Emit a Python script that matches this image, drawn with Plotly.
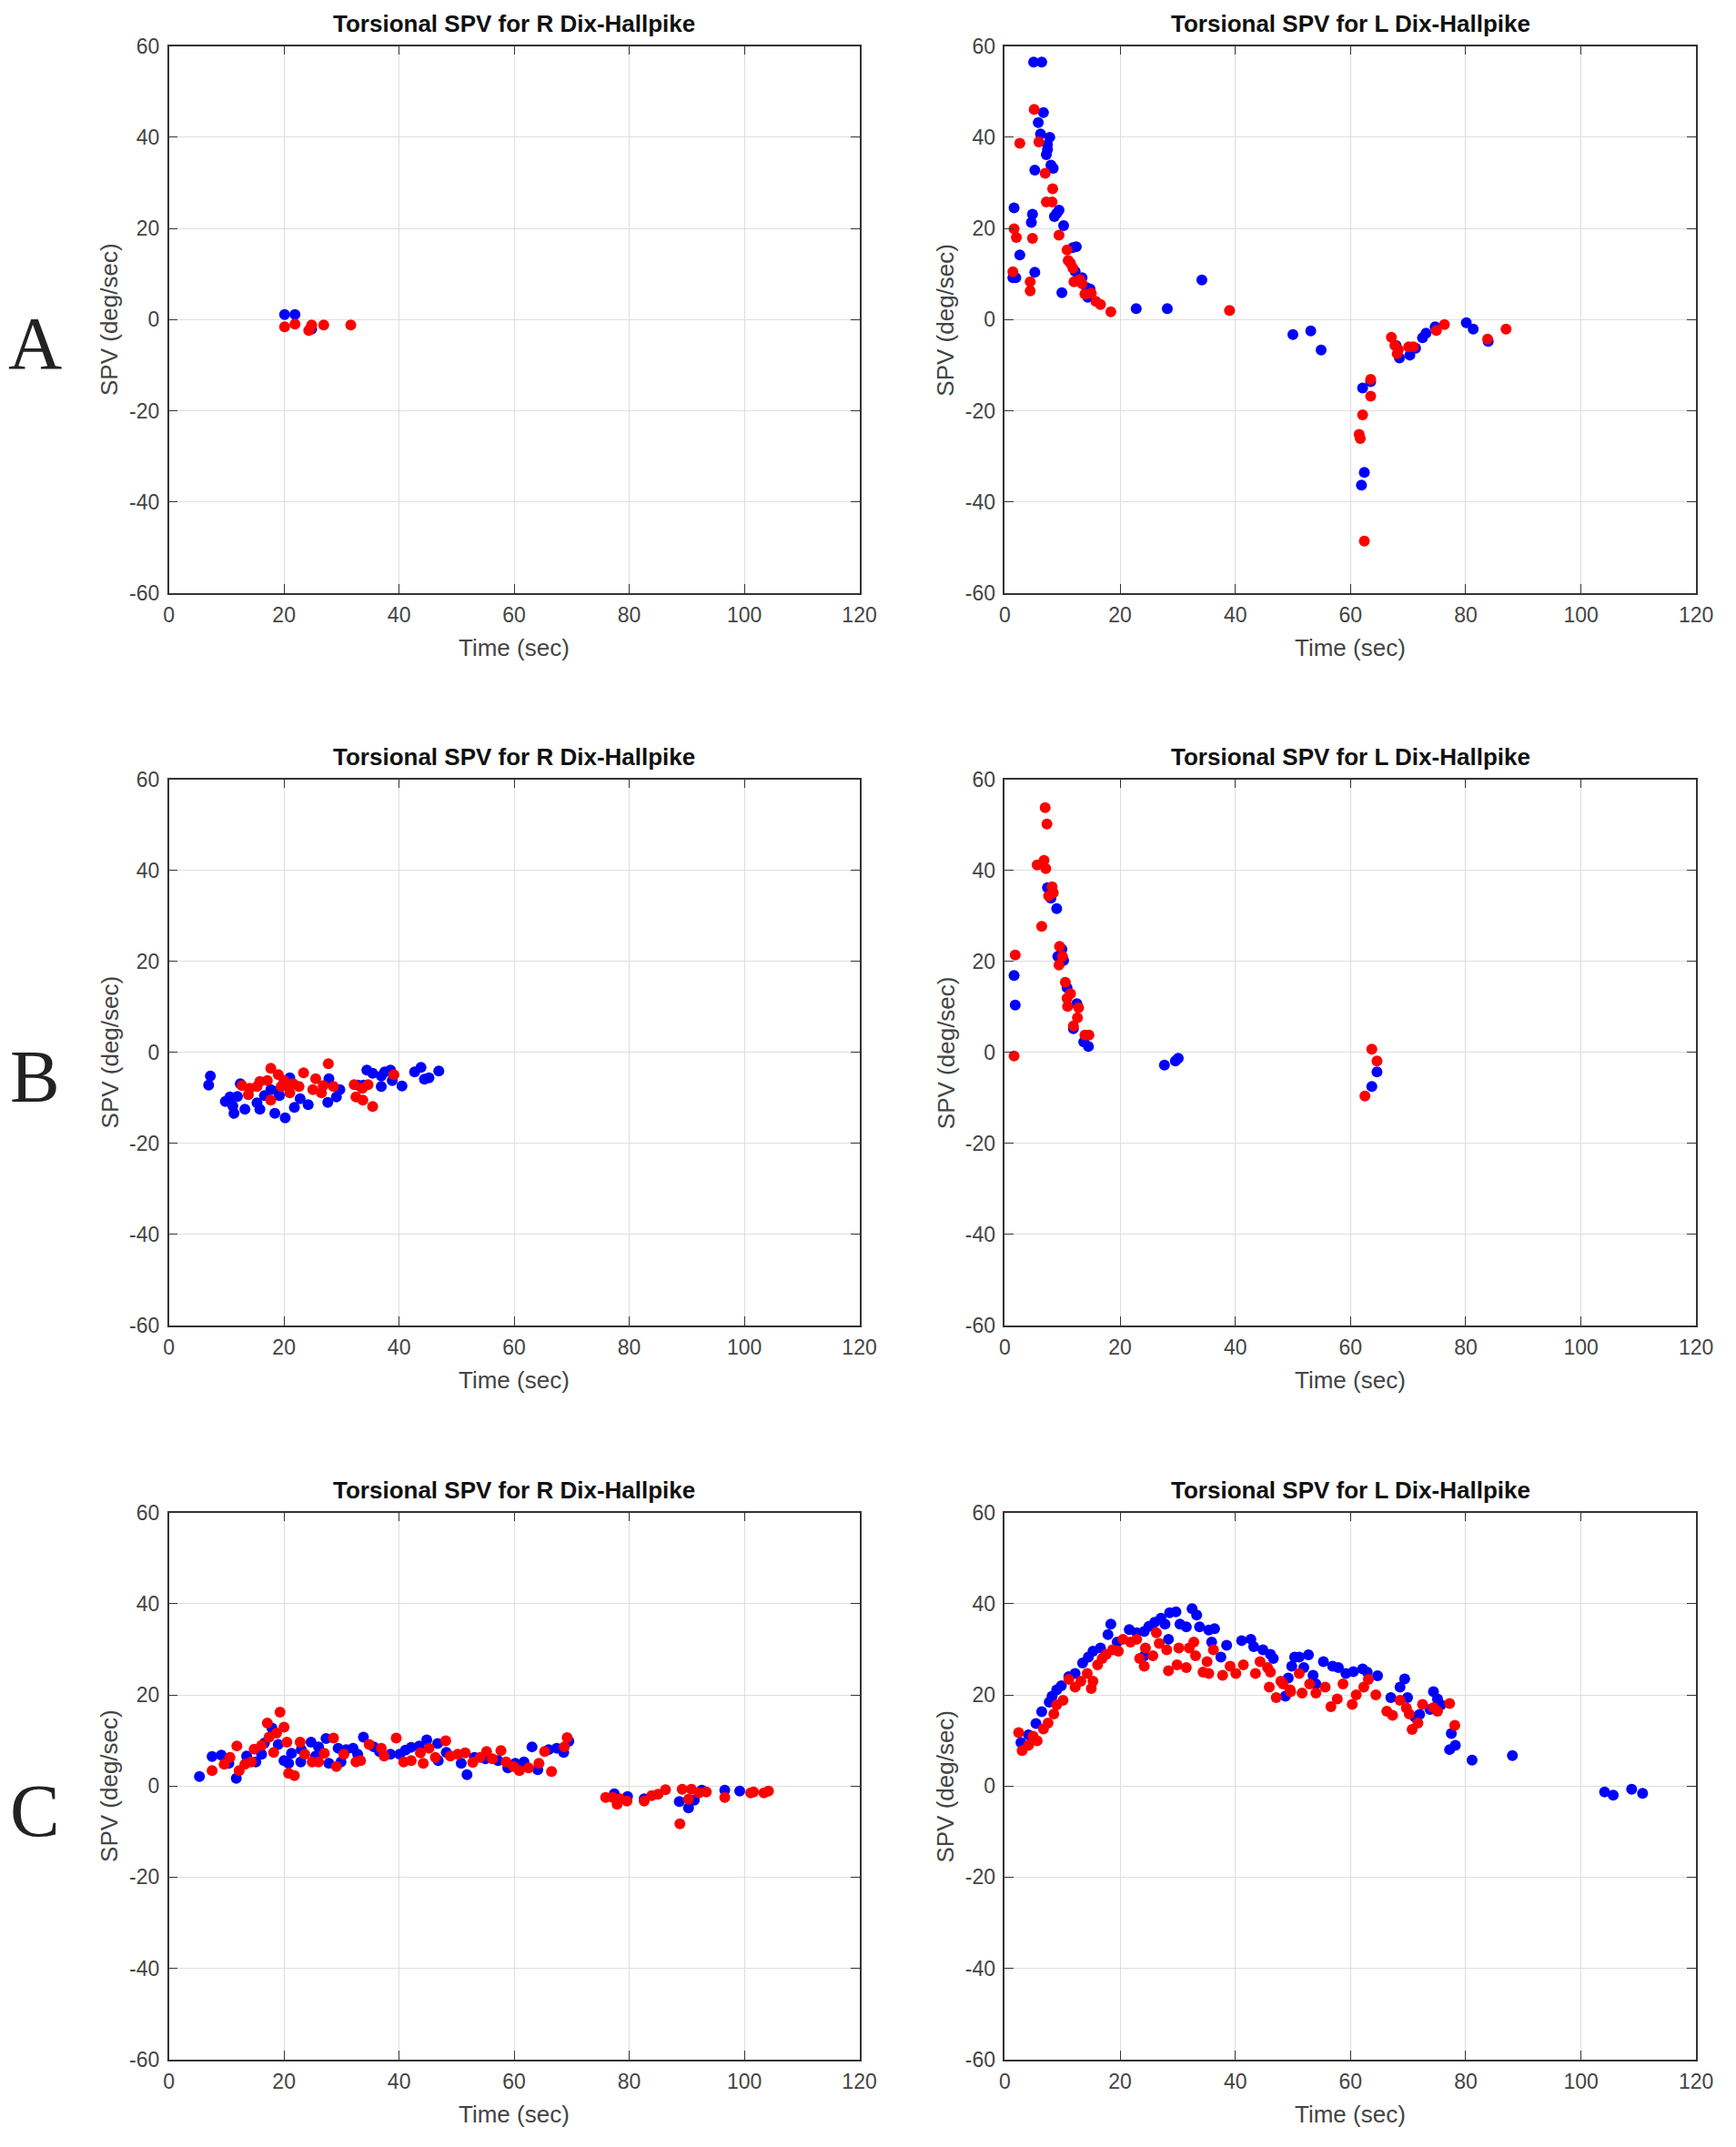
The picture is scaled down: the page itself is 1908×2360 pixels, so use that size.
import plotly.graph_objects as go

# --- data: time (sec) and torsional SPV (deg/sec) ---

# A, R Dix-Hallpike
a_r_blue_t = [20.1, 21.9, 24.8]
a_r_blue_spv = [1.1, 1.1, -2.1]
a_r_red_t = [20.1, 21.9, 24.3, 24.6, 24.8, 26.9, 31.6]
a_r_red_spv = [-1.6, -1.0, -2.4, -1.9, -1.2, -1.2, -1.2]

# A, L Dix-Hallpike
a_l_blue_t = [5.0, 6.4, 6.7, 5.8, 6.2, 7.8, 7.4, 7.4, 7.2, 5.2, 8.0, 8.4, 1.6, 4.8, 4.6, 9.4, 9.0,
              8.6, 10.2, 2.6, 11.8, 12.4, 5.2, 1.4, 1.9, 12.2, 13.4, 14.2, 14.8, 14.4, 9.9, 22.8,
              28.2, 34.2, 50.0, 53.1, 54.9, 62.1, 63.5, 62.4, 61.9, 67.9, 68.5, 70.3, 71.3, 72.5,
              73.1, 74.7, 80.1, 81.3, 83.9]
a_l_blue_spv = [56.5, 56.5, 45.4, 43.2, 40.7, 40.0, 38.4, 37.3, 36.2, 32.8, 33.9, 33.2, 24.5, 23.1,
                21.3, 24.0, 23.3, 22.6, 20.6, 14.2, 15.8, 16.0, 10.4, 9.2, 9.2, 10.6, 9.2, 7.0, 6.7,
                4.9, 5.9, 2.4, 2.4, 8.7, -3.3, -2.5, -6.7, -15.0, -13.6, -33.5, -36.3, -5.7, -8.4,
                -7.8, -6.3, -4.0, -3.0, -1.6, -0.7, -2.1, -4.8]
a_l_red_t = [5.1, 2.6, 5.9, 7.0, 8.3, 7.2, 8.2, 1.6, 2.0, 4.8, 9.4, 10.8, 11.0, 11.4, 11.8, 1.4,
             4.4, 4.4, 12.0, 13.0, 13.4, 13.9, 15.0, 15.8, 16.6, 18.4, 39.0, 63.5, 63.5, 62.1,
             61.5, 61.7, 62.4, 67.1, 67.7, 68.3, 68.1, 70.1, 70.9, 74.9, 76.3, 83.8, 87.0]
a_l_red_spv = [46.1, 38.7, 39.0, 32.1, 28.7, 25.8, 25.8, 19.9, 18.0, 17.8, 18.5, 15.3, 13.0, 12.4,
               11.3, 10.5, 8.3, 6.3, 8.3, 8.8, 7.9, 5.6, 5.8, 4.0, 3.3, 1.7, 2.0, -13.1, -16.8,
               -20.9, -25.2, -26.1, -48.6, -3.9, -5.7, -6.6, -7.5, -6.0, -6.0, -2.4, -1.1, -4.3, -2.1]

# B, R Dix-Hallpike
b_r_blue_t = [7.2, 6.9, 9.8, 10.6, 11.9, 11.1, 11.3, 13.2, 12.4, 15.3, 15.8, 16.6, 17.7, 19.2,
              18.4, 20.2, 21.8, 21.0, 22.8, 24.2, 27.8, 29.7, 27.6, 29.1, 32.8, 34.4, 35.4, 36.9,
              37.5, 38.5, 38.8, 36.9, 40.5, 42.7, 43.8, 44.4, 45.2, 46.9, 33.8, 18.9]
b_r_blue_spv = [-5.2, -7.2, -10.8, -9.8, -9.7, -11.8, -13.4, -12.5, -6.9, -11.1, -12.5, -9.5, -8.2,
                -9.5, -13.4, -14.4, -12.1, -5.6, -10.2, -11.5, -5.8, -8.2, -11.0, -9.8, -7.2, -3.9,
                -4.6, -5.2, -4.3, -3.9, -6.2, -7.5, -7.4, -4.3, -3.3, -5.9, -5.6, -4.1, -7.2, -8.5]
b_r_red_t = [17.7, 19.0, 23.4, 27.7, 25.5, 12.7, 14.0, 13.8, 15.3, 15.8, 17.1, 17.7, 19.5, 20.3,
             21.0, 21.6, 22.6, 25.0, 26.5, 26.8, 28.6, 32.2, 33.6, 34.6, 32.5, 33.7, 35.4, 39.1, 20.0]
b_r_red_spv = [-3.5, -4.9, -4.5, -2.5, -5.8, -7.3, -7.9, -9.3, -7.5, -6.4, -6.2, -10.5, -7.5, -7.2,
               -8.9, -6.9, -7.5, -8.2, -8.9, -7.3, -7.5, -7.1, -7.9, -7.1, -9.8, -10.5, -11.9,
               -4.9, -6.2]

# B, L Dix-Hallpike
b_l_blue_t = [7.4, 8.0, 9.0, 9.9, 9.2, 10.2, 10.8, 12.5, 11.9, 13.7, 14.5, 1.6, 1.8, 27.7, 29.6,
              30.1, 64.6, 63.7]
b_l_blue_spv = [36.2, 33.9, 31.6, 22.7, 21.1, 20.2, 14.2, 10.7, 5.2, 2.3, 1.3, 16.9, 10.4, -2.8,
                -1.9, -1.3, -4.3, -7.5]
b_l_red_t = [7.0, 7.3, 5.6, 6.8, 7.1, 8.2, 7.6, 8.4, 6.4, 9.5, 10.0, 9.4, 10.5, 11.4, 10.8, 10.9,
             12.8, 12.6, 11.9, 13.9, 14.6, 1.8, 1.6, 63.7, 64.6, 62.5]
b_l_red_spv = [53.8, 50.2, 41.2, 42.2, 40.4, 36.4, 34.4, 35.1, 27.7, 23.3, 21.1, 19.2, 15.4, 12.9,
               11.9, 10.1, 9.8, 7.6, 5.8, 3.8, 3.8, 21.4, -0.8, 0.7, -1.9, -9.6]

# C, R Dix-Hallpike
c_r_blue_t = [5.3, 7.5, 9.1, 11.7, 13.5, 16.1, 16.6, 17.9, 19.0, 20.0, 20.8, 21.3, 24.7, 26.0,
              27.3, 27.8, 29.4, 32.0, 33.8, 35.6, 38.5, 40.1, 42.1, 44.8, 46.7, 46.8, 50.8, 51.8,
              53.1, 58.9, 61.7, 63.1, 64.1, 67.4, 68.6, 69.5, 10.4, 15.1, 22.9, 29.9, 41.1, 32.8,
              23.0, 25.5, 30.8, 36.6, 43.5, 48.2, 55.0, 57.2, 60.2, 66.0,
              77.4, 79.7, 82.6, 88.7, 90.3, 91.3, 92.6, 96.6, 99.2]
c_r_blue_spv = [2.1, 6.5, 6.8, 1.7, 6.6, 7.0, 9.4, 12.7, 9.1, 5.6, 5.0, 7.2, 9.6, 8.6, 10.4, 5.0,
                8.3, 8.3, 10.7, 8.6, 7.0, 7.0, 8.5, 10.1, 9.3, 5.6, 5.0, 2.5, 6.3, 4.0, 5.3, 8.6,
                3.6, 8.3, 7.4, 9.8, 5.0, 5.3, 5.3, 5.3, 7.9, 7.0,
                8.0, 6.6, 8.0, 7.6, 8.8, 7.4, 6.0, 5.6, 5.0, 8.0,
                -1.7, -2.3, -2.8, -3.4, -4.8, -3.1, -0.9, -0.9, -1.1]
c_r_red_t = [7.5, 9.6, 10.6, 11.8, 12.2, 13.2, 14.3, 14.8, 16.1, 17.1, 17.4, 18.2, 18.7, 19.3,
             20.0, 20.5, 20.8, 21.8, 22.8, 23.6, 24.9, 26.0, 27.0, 28.6, 29.1, 30.4, 32.5, 33.3,
             34.8, 36.9, 37.4, 39.5, 40.8, 42.1, 43.7, 44.2, 45.2, 46.3, 48.1, 48.9, 50.2, 51.5,
             52.8, 54.1, 55.2, 56.2, 57.7, 58.6, 59.9, 60.9, 62.5, 64.3, 65.3, 66.5, 68.7, 69.2,
             75.9, 77.1, 77.9, 78.4, 79.6, 82.6, 83.9, 85.0, 86.3, 89.2, 90.8, 90.3, 92.1, 93.4,
             88.8, 96.6, 101.1, 101.6, 103.4, 104.2]
c_r_red_spv = [3.4, 4.8, 6.3, 8.8, 3.4, 4.8, 5.3, 8.1, 8.9, 13.8, 10.7, 7.4, 11.6, 16.2, 12.9, 9.6,
               2.8, 2.3, 9.6, 7.0, 5.3, 5.3, 7.2, 10.5, 4.3, 7.0, 5.3, 5.6, 9.1, 8.3, 6.6, 10.5,
               5.3, 5.6, 7.3, 5.0, 8.3, 6.3, 9.9, 6.6, 7.0, 7.3, 5.2, 6.3, 7.6, 6.0, 7.8, 5.3, 4.3,
               3.4, 4.0, 5.0, 7.6, 3.2, 8.6, 10.6,
               -2.5, -2.5, -4.0, -2.8, -3.3, -3.3, -2.1, -1.8, -0.8, -0.7, -0.7, -2.9, -1.5, -1.3,
               -8.3, -2.5, -1.5, -1.3, -1.5, -1.1]

# C, L Dix-Hallpike
c_l_blue_t = [2.8, 4.1, 5.4, 6.4, 7.7, 8.2, 9.0, 9.8, 11.1, 12.2, 13.5, 14.5, 15.3, 16.6, 17.9,
              18.4, 19.5, 21.6, 22.9, 24.2, 25.0, 26.0, 27.1, 27.8, 28.6, 29.7, 30.4, 31.5, 32.5,
              33.3, 33.8, 35.4, 36.4, 35.9, 28.4, 24.2, 38.5, 37.5, 41.1, 42.7, 43.2, 44.8, 46.1,
              46.6, 49.2, 50.3, 48.7,
              49.8, 51.1, 52.7, 51.9, 53.5, 55.3, 56.9, 57.9, 59.2, 60.5, 62.1, 62.9, 64.7, 67.0,
              68.6, 69.4, 69.9, 71.2, 72.0, 74.4, 75.1, 75.7, 73.8, 77.5, 77.2, 78.2, 81.1, 88.1,
              104.1, 105.6, 108.8, 110.7, 54.0]
c_l_blue_spv = [9.5, 11.2, 13.7, 16.3, 18.4, 19.7, 21.1, 22.0, 24.0, 24.7, 27.0, 28.3, 29.6, 30.3,
                33.2, 35.5, 31.6, 34.3, 33.6, 33.9, 35.0, 35.9, 36.8, 35.5, 38.0, 38.2, 35.5, 34.9,
                38.9, 37.5, 34.9, 34.2, 34.5, 31.6, 32.2, 28.6, 30.9, 28.3, 31.9, 32.2, 30.6, 29.9,
                28.9, 28.0, 23.7, 28.3, 19.7,
                26.3, 28.3, 28.8, 26.0, 24.3, 27.3, 26.3, 26.0, 24.7, 25.1, 25.7, 25.0, 24.2, 19.4,
                21.7, 23.5, 19.4, 15.1, 15.7, 20.7, 19.1, 17.8, 16.8, 11.5, 8.0, 8.9, 5.7, 6.7,
                -1.3, -2.0, -0.7, -1.6, 22.4]
c_l_red_t = [2.4, 3.0, 4.1, 4.9, 5.6, 6.7, 7.5, 8.5, 9.0, 10.1, 11.1, 12.2, 13.2, 14.3, 15.0, 15.3,
             16.1, 16.9, 17.6, 18.7, 19.7, 20.5, 21.8, 22.9, 23.4, 24.2, 24.4, 25.7, 26.3, 26.8,
             28.1, 28.4, 29.9, 30.2, 31.5, 32.0, 32.8, 33.1, 34.4, 35.1, 35.4, 36.2, 37.8, 39.1,
             40.1, 41.4, 43.5, 44.3, 45.6, 46.1, 45.9, 47.1, 47.9, 49.5,
             48.3, 49.6, 51.1, 51.6, 52.9, 54.0, 55.6, 56.6, 57.7, 58.7, 60.3, 61.0, 62.3, 63.1,
             64.4, 66.3, 67.3, 68.6, 69.7, 70.2, 70.7, 71.7, 72.5, 74.4, 75.1, 77.2, 78.1]
c_l_red_spv = [11.7, 7.8, 8.9, 10.9, 9.9, 12.5, 13.8, 15.8, 17.8, 18.8, 23.4, 21.7, 23.0, 24.7,
               21.4, 23.0, 26.6, 28.0, 28.9, 29.9, 29.6, 32.2, 31.6, 32.2, 28.0, 26.3, 30.3, 28.6,
               33.6, 31.3, 29.9, 25.3, 26.6, 30.3, 26.0, 30.3, 31.6, 28.6, 25.0, 27.3, 24.7, 29.9,
               24.3, 26.3, 24.7, 26.6, 24.7, 27.3, 26.0, 25.0, 21.7, 19.4, 23.0, 21.1,
               22.4, 20.7, 24.7, 20.4, 22.4, 20.4, 21.7, 17.4, 19.1, 22.4, 17.9, 20.0, 21.7, 23.4,
               20.0, 16.4, 15.5, 18.8, 17.1, 15.8, 12.4, 13.8, 17.9, 17.2, 16.4, 18.1, 13.3]

panel_letters = ['A', 'B', 'C']
panel_titles = ['Torsional SPV for R Dix-Hallpike', 'Torsional SPV for L Dix-Hallpike']
x_tick_vals = [0, 20, 40, 60, 80, 100, 120]
x_tick_text = ['0', '20', '40', '60', '80', '100', '120']
y_tick_vals = [-60, -40, -20, 0, 20, 40, 60]
y_tick_text = ['-60', '-40', '-20', '0', '20', '40', '60']

panels = [
    (a_r_blue_t, a_r_blue_spv, a_r_red_t, a_r_red_spv),
    (a_l_blue_t, a_l_blue_spv, a_l_red_t, a_l_red_spv),
    (b_r_blue_t, b_r_blue_spv, b_r_red_t, b_r_red_spv),
    (b_l_blue_t, b_l_blue_spv, b_l_red_t, b_l_red_spv),
    (c_r_blue_t, c_r_blue_spv, c_r_red_t, c_r_red_spv),
    (c_l_blue_t, c_l_blue_spv, c_l_red_t, c_l_red_spv),
]

# page body has an 8px margin, so the figure is 16px smaller than the window
PAD = 8
W, H = 1908 - 2 * PAD, 2360 - 2 * PAD


def px_x(p):
    return (p - PAD) / W


def px_y(p):
    return 1 - (p - PAD) / H


col_px = [(182, 951), (1113, 1883)]
row_px = [(38, 646), (853, 1460), (1668, 2276)]
col_dom = [[px_x(a), px_x(b)] for a, b in col_px]
row_dom = [[px_y(b), px_y(t)] for t, b in row_px]

FONT = 'Liberation Sans, Arial, sans-serif'
TICK_COLOR = '#444444'
LINE_COLOR = '#333333'

fig = go.Figure()
annotations = []
layout = {}

for i, (bt, bs, rt, rs) in enumerate(panels):
    row, col = divmod(i, 2)
    n = '' if i == 0 else str(i + 1)
    xa, ya = 'x' + n, 'y' + n
    fig.add_trace(go.Scatter(x=bt, y=bs, mode='markers', xaxis=xa, yaxis=ya,
                             marker=dict(color='#0000ff', size=12, line=dict(width=0)),
                             showlegend=False))
    fig.add_trace(go.Scatter(x=rt, y=rs, mode='markers', xaxis=xa, yaxis=ya,
                             marker=dict(color='#ff0000', size=12, line=dict(width=0)),
                             showlegend=False))
    common = dict(showline=True, mirror='ticks', linecolor=LINE_COLOR, linewidth=1.5,
                  ticks='inside', ticklen=10, tickwidth=1.2, tickcolor=LINE_COLOR,
                  showgrid=True, gridcolor='#dedede', gridwidth=1, zeroline=False,
                  tickmode='array',
                  tickfont=dict(family=FONT, size=23, color=TICK_COLOR))
    layout['xaxis' + n] = dict(common, domain=col_dom[col], anchor=ya, range=[0, 120],
                               tickvals=x_tick_vals, ticktext=x_tick_text,
                               ticklabelstandoff=3)
    layout['yaxis' + n] = dict(common, domain=row_dom[row], anchor=xa, range=[-60, 60],
                               tickvals=y_tick_vals, ticktext=y_tick_text,
                               ticklabelstandoff=4)

    xc = sum(col_dom[col]) / 2
    annotations.append(dict(text='<b>' + panel_titles[col] + '</b>', x=xc, y=row_dom[row][1],
                            xref='paper', yref='paper', xanchor='center', yanchor='bottom',
                            yshift=8, showarrow=False,
                            font=dict(family=FONT, size=26, color='#111111')))
    annotations.append(dict(text='Time (sec)', x=xc, y=row_dom[row][0],
                            xref='paper', yref='paper', xanchor='center', yanchor='middle',
                            yshift=-60, showarrow=False,
                            font=dict(family=FONT, size=26, color=TICK_COLOR)))
    annotations.append(dict(text='SPV (deg/sec)', x=col_dom[col][0], y=sum(row_dom[row]) / 2,
                            xref='paper', yref='paper', xanchor='center', yanchor='middle',
                            xshift=-65, textangle=-90, showarrow=False,
                            font=dict(family=FONT, size=26, color=TICK_COLOR)))

letter_px = [369, 1184, 2000]
for letter, py in zip(panel_letters, letter_px):
    annotations.append(dict(text=letter, x=px_x(33), y=px_y(py), xref='paper', yref='paper',
                            xanchor='center', yanchor='middle', showarrow=False,
                            font=dict(family='Liberation Serif, Times New Roman, serif',
                                      size=82, color='#222222')))

fig.update_layout(
    width=W, height=H,
    margin=dict(l=0, r=0, t=0, b=0),
    paper_bgcolor='white', plot_bgcolor='white',
    annotations=annotations,
    **layout
)

fig.write_html('out.html')
